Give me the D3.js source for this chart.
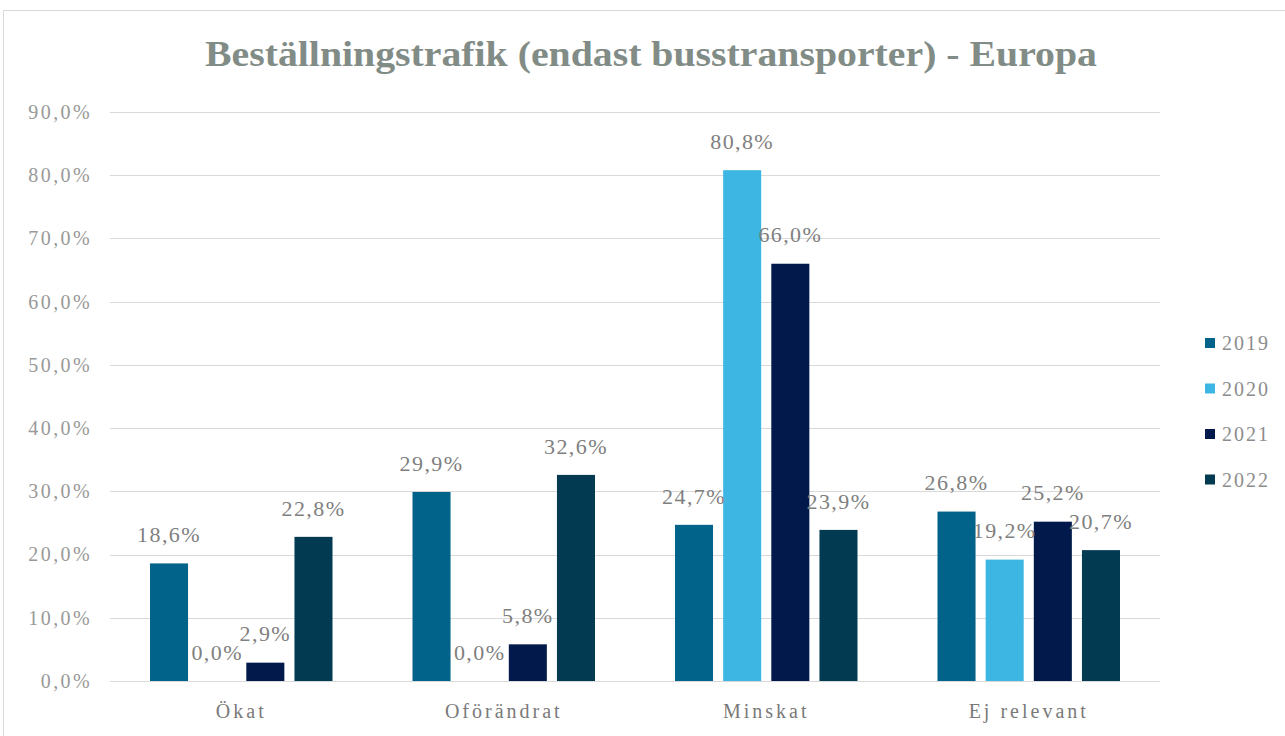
<!DOCTYPE html>
<html><head><meta charset="utf-8">
<script src="https://cdn.jsdelivr.net/npm/d3@7"></script>
<style>body{margin:0;background:#fff}svg{display:block}</style>
</head><body>
<svg id="c" width="1285" height="736"></svg>
<script>
const categories = ["Ökat", "Oförändrat", "Minskat", "Ej relevant"];
const seriesNames = ["2019", "2020", "2021", "2022"];
const values2019 = [18.6, 29.9, 24.7, 26.8];
const values2020 = [0.0, 0.0, 80.8, 19.2];
const values2021 = [2.9, 5.8, 66.0, 25.2];
const values2022 = [22.8, 32.6, 23.9, 20.7];
const yTicks = [0, 10, 20, 30, 40, 50, 60, 70, 80, 90];
const colors = ["#02638a", "#3eb6e3", "#011a4b", "#023b51"];
const title = "Beställningstrafik (endast busstransporter) - Europa";

(function () {
const series = [values2019, values2020, values2021, values2022];
const svg = d3.select("#c");
const serif = "'Liberation Serif', 'DejaVu Serif', serif";

svg.append("rect").attr("x", 3.5).attr("y", 10.5).attr("width", 1290).attr("height", 740)
  .attr("fill", "#fff").attr("stroke", "#d9d9d9");

const pLeft = 110, pRight = 1160, pTop = 112, pBottom = 681;
const y = d3.scaleLinear().domain([0, 90]).range([pBottom, pTop]);
const x0 = d3.scaleBand().domain(categories).range([pLeft, pRight]).paddingInner(0).paddingOuter(0);
const x1 = d3.scaleBand().domain(seriesNames).range([40, x0.bandwidth() - 40]).paddingInner(0.21).paddingOuter(0);

svg.append("text").attr("x", 651).attr("y", 66).attr("text-anchor", "middle")
  .attr("font-family", serif).attr("font-size", 36).attr("font-weight", "bold").attr("fill", "#828c86")
  .attr("textLength", 892).attr("lengthAdjust", "spacingAndGlyphs").text(title);

const grid = svg.append("g");
grid.selectAll("line").data(yTicks).join("line")
  .attr("x1", pLeft).attr("x2", pRight)
  .attr("y1", d => Math.round(y(d)) + 0.5).attr("y2", d => Math.round(y(d)) + 0.5)
  .attr("stroke", "#d9d9d9").attr("stroke-width", 1.2);

const yAxis = d3.axisLeft(y).tickValues(yTicks).tickSize(0).tickPadding(0)
  .tickFormat(d => d.toFixed(1).replace(".", ",") + "%");
const ya = svg.append("g").attr("transform", `translate(92,0)`).call(yAxis);
ya.select(".domain").remove();
ya.selectAll("text").attr("font-family", serif).attr("font-size", 20).attr("fill", "#999999")
  .attr("letter-spacing", 2.4);

const xAxis = d3.axisBottom(x0).tickSize(0).tickPadding(0);
const xa = svg.append("g").attr("transform", `translate(0,${pBottom + 23})`).call(xAxis);
xa.select(".domain").remove();
xa.selectAll("text").attr("font-family", serif).attr("font-size", 20).attr("fill", "#7a7a7a")
  .attr("letter-spacing", 3);

const groups = svg.append("g").selectAll("g").data(categories).join("g")
  .attr("transform", d => `translate(${x0(d)},0)`);

groups.each(function(cat, ci) {
  const g = d3.select(this);
  const data = seriesNames.map((s, si) => ({ s, si, v: series[si][ci] }));
  g.selectAll("rect").data(data).join("rect")
    .attr("x", d => x1(d.s)).attr("width", x1.bandwidth())
    .attr("y", d => y(d.v)).attr("height", d => y(0) - y(d.v))
    .attr("fill", d => colors[d.si]);
  g.selectAll("text").data(data).join("text")
    .attr("x", d => x1(d.s) + x1.bandwidth() / 2)
    .attr("y", d => y(d.v) - 29)
    .attr("text-anchor", "middle").attr("dy", "0.35em")
    .attr("font-family", serif).attr("font-size", 22).attr("fill", "#7f7f7f")
    .attr("letter-spacing", 1.4)
    .text(d => d.v.toFixed(1).replace(".", ",") + "%");
});

const legend = svg.append("g").selectAll("g").data(seriesNames).join("g")
  .attr("transform", (d, i) => `translate(1205,${343 + i * 45.5})`);
legend.append("rect").attr("x", 0).attr("y", -5).attr("width", 10).attr("height", 10)
  .attr("fill", (d, i) => colors[i]);
legend.append("text").attr("x", 17).attr("y", 0).attr("dy", "0.35em")
  .attr("font-family", serif).attr("font-size", 20).attr("fill", "#8c8c8c")
  .attr("letter-spacing", 2).text(d => d);
})();
</script>
</body></html>
